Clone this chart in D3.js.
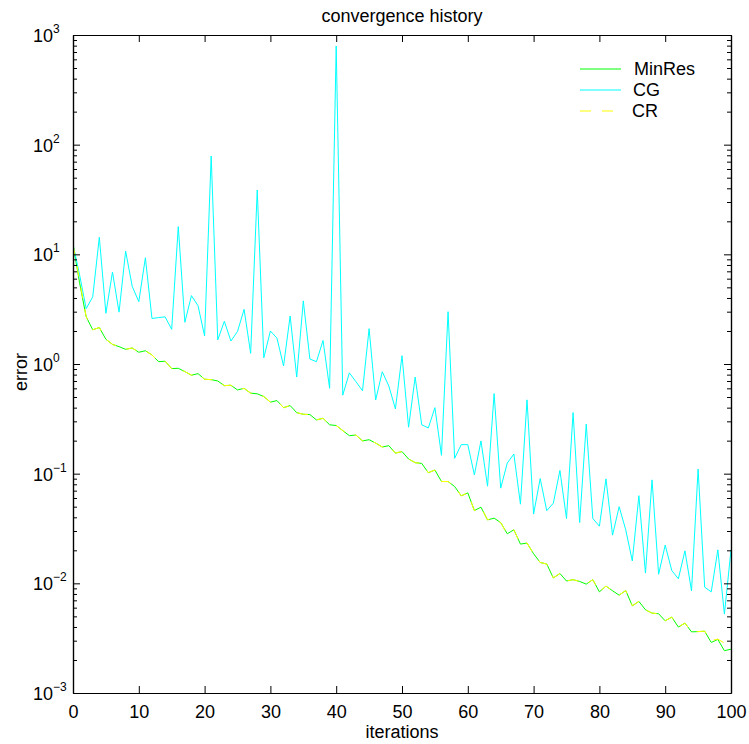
<!DOCTYPE html>
<html>
<head>
<meta charset="utf-8">
<script src="https://cdn.jsdelivr.net/npm/d3@7"></script>
<style>
  html, body { margin: 0; padding: 0; background: #fff; }
  svg { display: block; font-family: "Liberation Sans", Arial, Helvetica, sans-serif; }
</style>
</head>
<body>
<svg id="chart" width="749" height="744"></svg>
<script>
// Residual error per iteration for three Krylov solvers
const iterations = d3.range(0, 101);

const minresError = [
  12.4, 5.5, 2.7, 2.05, 2.15, 1.68, 1.51, 1.44, 1.36, 1.40,
  1.28, 1.32, 1.21, 1.05, 1.06, 0.908, 0.914, 0.853, 0.79, 0.817,
  0.726, 0.72, 0.70, 0.635, 0.64, 0.58, 0.60, 0.542, 0.535, 0.505,
  0.449, 0.464, 0.40, 0.418, 0.36, 0.348, 0.346, 0.309, 0.32, 0.279,
  0.275, 0.247, 0.222, 0.225, 0.199, 0.204, 0.19, 0.175, 0.18, 0.154,
  0.159, 0.136, 0.126, 0.124, 0.102, 0.108, 0.0848, 0.0848, 0.0764, 0.0628,
  0.0668, 0.0461, 0.0495, 0.0379, 0.0393, 0.0358, 0.0283, 0.0308, 0.0228, 0.0233,
  0.0186, 0.0155, 0.015, 0.0112, 0.0123, 0.0105, 0.0108, 0.0104, 0.00984, 0.0108,
  0.00836, 0.00944, 0.00855, 0.0078, 0.0086, 0.00624, 0.00684, 0.00574, 0.00535, 0.00528,
  0.00455, 0.00492, 0.00399, 0.00434, 0.00361, 0.00363, 0.00366, 0.00289, 0.00308, 0.00243,
  0.00251
];

const cgError = [
  12.4, 6.5, 3.2, 4.1, 14.3, 2.9, 6.9, 2.97, 10.7, 5.1,
  3.7, 9.3, 2.6, 2.65, 2.69, 2.07, 17.9, 2.4, 4.2, 3.4,
  1.8, 78.9, 1.66, 2.45, 1.62, 1.98, 3.15, 1.25, 38.6, 1.14,
  2.0, 1.72, 0.96, 2.74, 0.76, 3.76, 1.11, 1.05, 1.64, 0.60,
  794, 0.52, 0.83, 0.69, 0.57, 2.1, 0.47, 0.85, 0.63, 0.39,
  1.19, 0.265, 0.76, 0.279, 0.261, 0.40, 0.147, 3.0, 0.138, 0.184,
  0.184, 0.0975, 0.199, 0.0769, 0.537, 0.0738, 0.125, 0.151, 0.0527, 0.471,
  0.0428, 0.0903, 0.046, 0.0538, 0.107, 0.039, 0.361, 0.0358, 0.283, 0.039,
  0.0332, 0.0897, 0.0275, 0.050, 0.0308, 0.016, 0.063, 0.0124, 0.0878, 0.0121,
  0.0223, 0.0131, 0.011, 0.0198, 0.00855, 0.110, 0.00923, 0.00836, 0.0202, 0.00524,
  0.0202
];

const crError = [
  12.4, 5.8, 2.7, 2.05, 2.15, 1.68, 1.51, 1.44, 1.36, 1.40,
  1.28, 1.32, 1.21, 1.05, 1.06, 0.908, 0.914, 0.853, 0.79, 0.817,
  0.726, 0.72, 0.70, 0.635, 0.64, 0.58, 0.60, 0.542, 0.535, 0.505,
  0.449, 0.464, 0.40, 0.418, 0.36, 0.348, 0.346, 0.309, 0.32, 0.279,
  0.275, 0.247, 0.222, 0.225, 0.199, 0.204, 0.19, 0.175, 0.18, 0.154,
  0.159, 0.136, 0.126, 0.124, 0.102, 0.108, 0.0848, 0.0848, 0.0764, 0.0628,
  0.0668, 0.0461, 0.0495, 0.0379, 0.0393, 0.0358, 0.0283, 0.0308, 0.0228, 0.0233,
  0.0186, 0.0155, 0.015, 0.0112, 0.0123, 0.0105, 0.0108, 0.0104, 0.00984, 0.0108,
  0.00836, 0.00944, 0.00855, 0.0078, 0.0086, 0.00624, 0.00684, 0.00574, 0.00535, 0.00528,
  0.00455, 0.00492, 0.00399, 0.00434, 0.00361, 0.00363, 0.00366, 0.00300, 0.00310, 0.00285,
  0.00262
];

const xTicks = [0, 10, 20, 30, 40, 50, 60, 70, 80, 90, 100];
const yExponents = [-3, -2, -1, 0, 1, 2, 3];

const seriesNames = ["MinRes", "CG", "CR"];
const seriesColors = ["#00ff00", "#00ffff", "#ffff00"];

// ---- layout ----
const plot = { left: 73, right: 731, top: 35, bottom: 693 };
const svg = d3.select("#chart");

const x = d3.scaleLinear().domain([0, 100]).range([plot.left, plot.right]);
const y = d3.scaleLog().domain([1e-3, 1e3]).range([plot.bottom, plot.top]);

svg.append("defs").append("clipPath").attr("id", "plotClip")
  .append("rect")
  .attr("x", plot.left).attr("y", plot.top)
  .attr("width", plot.right - plot.left).attr("height", plot.bottom - plot.top);

// ---- series ----
const line = d3.line()
  .x((d, i) => x(iterations[i]))
  .y(d => y(d));

const lines = svg.append("g").attr("clip-path", "url(#plotClip)");
lines.append("path").datum(minresError)
  .attr("d", line).attr("fill", "none")
  .attr("stroke", seriesColors[0]).attr("stroke-width", 1);
lines.append("path").datum(cgError)
  .attr("d", line).attr("fill", "none")
  .attr("stroke", seriesColors[1]).attr("stroke-width", 1);
lines.append("path").datum(crError)
  .attr("d", line).attr("fill", "none")
  .attr("stroke", seriesColors[2]).attr("stroke-width", 1)
  .attr("stroke-dasharray", "11,11");

// ---- axes (box with inward ticks) ----
const majorY = yExponents.map(e => Math.pow(10, e));
const minorY = [];
yExponents.slice(0, -1).forEach(e => {
  for (let m = 2; m <= 9; m++) minorY.push(m * Math.pow(10, e));
});

const axisStyle = g => {
  g.select(".domain").attr("stroke", "#000").attr("stroke-width", 1.2);
  g.selectAll(".tick line").attr("stroke", "#000").attr("stroke-width", 1);
};

// left
svg.append("g").attr("transform", `translate(${plot.left},0)`)
  .call(d3.axisLeft(y).tickValues(majorY).tickSize(-7).tickSizeOuter(0).tickFormat(""))
  .call(axisStyle);
svg.append("g").attr("transform", `translate(${plot.left},0)`)
  .call(d3.axisLeft(y).tickValues(minorY).tickSize(-4).tickSizeOuter(0).tickFormat(""))
  .call(axisStyle);
// right
svg.append("g").attr("transform", `translate(${plot.right},0)`)
  .call(d3.axisRight(y).tickValues(majorY).tickSize(-7).tickSizeOuter(0).tickFormat(""))
  .call(axisStyle);
svg.append("g").attr("transform", `translate(${plot.right},0)`)
  .call(d3.axisRight(y).tickValues(minorY).tickSize(-4).tickSizeOuter(0).tickFormat(""))
  .call(axisStyle);
// bottom
const bottomAxis = svg.append("g").attr("transform", `translate(0,${plot.bottom})`)
  .call(d3.axisBottom(x).tickValues(xTicks).tickSize(-7).tickSizeOuter(0).tickFormat(d3.format("d")))
  .call(axisStyle);
bottomAxis.selectAll(".tick text")
  .attr("y", 12).attr("dy", "0.71em")
  .attr("fill", "#000").style("font-size", "18px")
  .style("font-family", "'Liberation Sans', Arial, sans-serif");
// top
svg.append("g").attr("transform", `translate(0,${plot.top})`)
  .call(d3.axisTop(x).tickValues(xTicks).tickSize(-7).tickSizeOuter(0).tickFormat(""))
  .call(axisStyle);

// y tick labels as 10 with a superscript exponent
const yLabels = svg.append("g").attr("fill", "#000");
yExponents.forEach(e => {
  const t = yLabels.append("text")
    .attr("x", 33)
    .attr("y", y(Math.pow(10, e)) + 7)
    .style("font-size", "18px");
  t.append("tspan").text("10");
  t.append("tspan").attr("dy", -9).style("font-size", "12px")
    .text(e < 0 ? "\u2212" + Math.abs(e) : String(e));
});

// ---- titles ----
svg.append("text")
  .attr("x", (plot.left + plot.right) / 2).attr("y", 22)
  .attr("text-anchor", "middle").style("font-size", "18px")
  .text("convergence history");

svg.append("text")
  .attr("x", (plot.left + plot.right) / 2).attr("y", 738)
  .attr("text-anchor", "middle").style("font-size", "18px")
  .text("iterations");

svg.append("text")
  .attr("transform", `translate(27,${(plot.top + plot.bottom) / 2 + 8}) rotate(-90)`)
  .attr("text-anchor", "middle").style("font-size", "18px")
  .text("error");

// ---- legend ----
const legend = svg.append("g");
seriesNames.forEach((name, i) => {
  const ly = 69 + i * 21;
  legend.append("line")
    .attr("x1", 580).attr("x2", 621)
    .attr("y1", ly).attr("y2", ly)
    .attr("stroke", seriesColors[i]).attr("stroke-width", 1.2)
    .attr("stroke-dasharray", name === "CR" ? "11,11" : null);
  legend.append("text")
    .attr("x", 634 - i).attr("y", ly + 6)
    .style("font-size", "18px")
    .text(name);
});
</script>
</body>
</html>
